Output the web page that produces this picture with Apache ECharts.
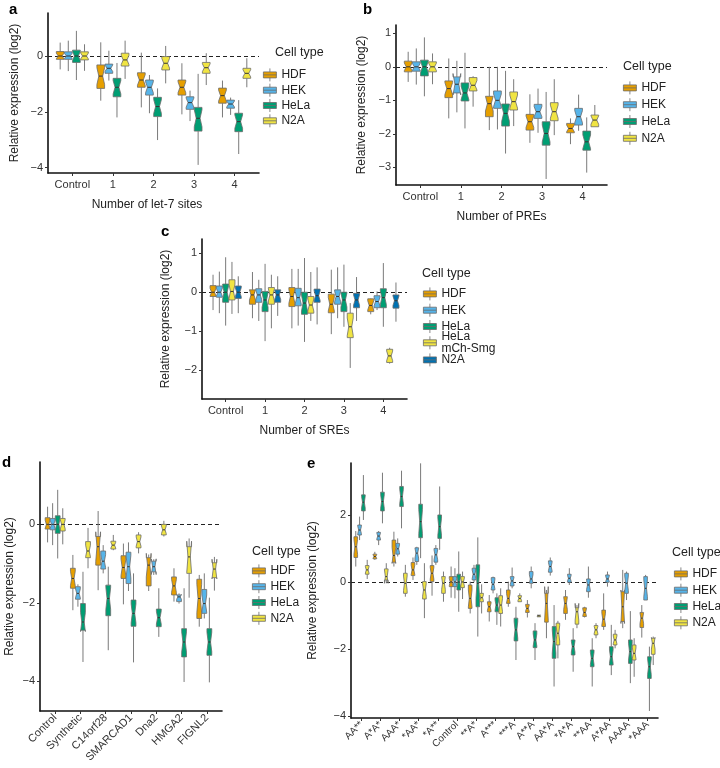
<!DOCTYPE html>
<html><head><meta charset="utf-8">
<script src="https://cdn.jsdelivr.net/npm/echarts@6/dist/echarts.min.js"></script>
<style>html,body{margin:0;padding:0;background:#fff}#c{width:720px;height:768px}</style>
</head><body><div id="c"></div>
<script>
// ---------- DATA: each row = [lowerWhisker, Q1, median, Q3, upperWhisker, (notch half-size)] ----------
const aCategories = ['Control','1','2','3','4'];
const aHDF  = [[-0.48,-0.12,0,0.16,0.48],[-1.6,-1.16,-0.72,-0.32,0.49],[-1.84,-1.12,-0.86,-0.6,0.12],[-2.09,-1.4,-1.12,-0.86,-0.26],[-2.2,-1.69,-1.42,-1.15,-0.88]];
const aHEK  = [[-0.54,-0.12,0,0.15,0.55],[-0.88,-0.62,-0.44,-0.29,0.19],[-2.05,-1.4,-1.12,-0.86,-0.68],[-2.33,-1.91,-1.67,-1.46,-1.24],[-2.11,-1.87,-1.72,-1.58,-1.49]];
const aHeLa = [[-0.86,-0.23,0,0.21,0.9],[-2.2,-1.46,-1.12,-0.8,-0.25],[-3.01,-2.17,-1.81,-1.48,-1.16],[-3.9,-2.69,-2.23,-1.84,-0.64],[-3.51,-2.71,-2.35,-2.05,-1.58]];
const aN2A  = [[-0.53,-0.14,0,0.15,0.42],[-0.82,-0.36,-0.14,0.1,0.55],[-0.98,-0.5,-0.26,-0.02,0.36],[-1.04,-0.62,-0.42,-0.23,0.1],[-1.12,-0.8,-0.62,-0.44,-0.08]];

const bCategories = ['Control','1','2','3','4'];
const bHDF  = [[-0.45,-0.15,0,0.17,0.45],[-1.54,-0.92,-0.65,-0.42,0.25],[-1.89,-1.49,-1.1,-0.88,0],[-2.27,-1.89,-1.64,-1.42,-0.82],[-2.31,-1.97,-1.84,-1.69,-1.54]];
const bHEK  = [[-0.53,-0.13,0,0.15,0.55],[-1.36,-0.78,-0.52,-0.3,0.18,0.32],[-1.87,-1.24,-1.0,-0.72,0],[-1.97,-1.54,-1.34,-1.12,-0.65],[-1.91,-1.74,-1.49,-1.24,-0.83]];
const bHeLa = [[-0.88,-0.27,0,0.2,0.88],[-1.84,-1.02,-0.78,-0.48,0.42],[-2.59,-1.77,-1.39,-1.11,-0.12],[-3.35,-2.34,-1.99,-1.64,-0.75],[-3.16,-2.49,-2.24,-1.92,-1.51]];
const bN2A  = [[-0.52,-0.15,0,0.15,0.4],[-1.19,-0.72,-0.55,-0.32,-0.28],[-1.77,-1.29,-1.04,-0.75,-0.37],[-2.04,-1.61,-1.34,-1.07,-0.37],[-1.79,-1.79,-1.59,-1.44,-1.14]];

const cCategories = ['Control','1','2','3','4'];
const cHDF  = [[-0.46,-0.11,0,0.17,0.45],[-0.67,-0.31,-0.07,0.06,0.52],[-0.93,-0.37,-0.11,0.12,0.6],[-1.08,-0.53,-0.31,-0.05,0.58],[-0.57,-0.5,-0.34,-0.17,-0.16]];
const cHEK  = [[-0.54,-0.13,0,0.16,0.53],[-0.74,-0.26,-0.07,0.09,0.32],[-0.86,-0.35,-0.14,0.1,0.6],[-0.67,-0.31,-0.11,0.06,0.64],[-0.46,-0.4,-0.24,-0.09,0.02]];
const cHeLa = [[-0.86,-0.26,0,0.21,0.9],[-1.26,-0.5,-0.2,0.02,0.73],[-1.28,-0.57,-0.28,0,0.88],[-0.89,-0.5,-0.2,0,0.71],[-0.89,-0.4,-0.14,0.09,0.75]];
const cMch  = [[-0.56,-0.2,0.02,0.32,0.78],[-0.93,-0.31,-0.07,0.12,0.45],[-0.74,-0.54,-0.33,-0.11,0.52],[-1.95,-1.17,-0.89,-0.54,-0.28],[-1.84,-1.81,-1.64,-1.47,-1.43]];
const cN2A  = [[-0.54,-0.16,0,0.16,0.41],[-0.61,-0.26,-0.07,0.06,0.41],[-0.83,-0.26,-0.09,0.08,0.64],[-0.74,-0.4,-0.2,-0.03,0.39],[-0.76,-0.41,-0.22,-0.07,0.25]];

const dCategories = ['Control','Synthetic','C14orf28','SMARCAD1','Dna2','HMGA2','FIGNL2'];
const dHDF  = [[-0.46,-0.12,0,0.17,0.45],[-2.19,-1.63,-1.38,-1.12,-0.78],[-1.68,-1.04,-0.57,-0.31,0.34,0.38],[-2.04,-1.38,-1.1,-0.8,-0.49],[-1.7,-1.57,-1.04,-0.85,-0.77,0.3],[-1.97,-1.8,-1.57,-1.34,-1.12],[-2.61,-2.4,-1.89,-1.4,-1.29]];
const dHEK  = [[-0.53,-0.14,0,0.15,0.54],[-2.1,-1.91,-1.76,-1.59,-1.53],[-1.25,-1.14,-0.94,-0.68,-0.53],[-1.7,-1.51,-1.08,-0.71,-0.46],[-1.29,-1.21,-1.08,-0.94,-0.89,0.2],[-2.02,-1.97,-1.85,-1.8,-1.76],[-2.4,-2.27,-2.02,-1.66,-1.25]];
const dHeLa = [[-0.87,-0.23,0,0.22,0.88],[-3.51,-2.7,-2.49,-2.02,-1.21],[-3.21,-2.33,-1.89,-1.55,-1.08],[-3.52,-2.6,-2.27,-1.93,-1.25],[-2.87,-2.61,-2.38,-2.16,-1.63],[-4.02,-3.38,-3.0,-2.66,-1.63],[-4.03,-3.34,-3.0,-2.66,-1.87]];
const dN2A  = [[-0.51,-0.17,0,0.15,0.41],[-1.12,-0.85,-0.68,-0.44,-0.09],[-0.66,-0.63,-0.53,-0.43,-0.27],[-0.74,-0.6,-0.44,-0.27,-0.2],[-0.31,-0.27,-0.14,0,0.09],[-1.87,-1.25,-0.83,-0.57,-0.36,0.4],[-1.69,-1.36,-1.14,-0.98,-0.83,0.25]];

const eCategories = ['AA**','A*A*','AAA*','*AA*','*A**','Control','**A*','A***','***A','A**A','AA*A','*A*A','**AA','A*AA','AAAA','*AAA'];
const eHDF = [[0.46,0.73,1.05,1.35,1.52],[0.66,0.69,0.76,0.83,0.9],[0.46,0.59,0.79,1.25,1.5],[0.06,0.19,0.36,0.58,0.73],[-0.41,0.01,0.26,0.49,0.79],[-0.47,-0.14,0,0.16,0.46],[-0.94,-0.79,-0.49,-0.09,0.01],[-1.18,-0.89,-0.74,-0.59,-0.39],[-0.74,-0.64,-0.49,-0.24,0.01],[-1.06,-0.91,-0.79,-0.67,-0.54],[-1.68,-1.2,-0.64,-0.34,-0.24,0.5],[-1.13,-0.94,-0.64,-0.44,-0.24],[-1.06,-1.03,-0.91,-0.77,-0.74],[-1.43,-1.33,-1.11,-0.84,-0.34],[-1.38,-1.18,-0.74,-0.29,0.36,0.5],[-1.66,-1.36,-1.08,-0.91,-0.69]];
const eHEK = [[1.25,1.4,1.55,1.7,1.95],[1.1,1.25,1.37,1.48,1.52],[0.76,0.83,0.99,1.15,1.3],[0.51,0.61,0.86,1.02,1.05],[0.51,0.59,0.81,1.0,1.1],[-0.49,-0.14,0,0.16,0.41],[-0.01,0.06,0.23,0.41,0.51],[-0.34,-0.24,-0.07,0.13,0.16],[-0.19,-0.12,0.03,0.16,0.43],[-0.19,-0.04,0.09,0.31,0.46],[0.19,0.29,0.46,0.63,0.73],[-0.09,-0.01,0.11,0.23,0.41],[-0.47,-0.29,-0.09,0.09,0.46],[-0.14,-0.01,0.09,0.21,0.31],[-0.54,-0.34,-0.04,0.26,0.31],[-0.54,-0.54,-0.19,0.16,0.21]];
const eHeLa = [[1.85,2.12,2.38,2.6,3.19],[1.75,2.12,2.4,2.68,3.26],[1.6,2.25,2.55,2.85,3.32],[0.71,1.32,1.8,2.32,3.54],[0.96,1.3,1.65,2.0,2.85],[-0.89,-0.24,0,0.23,0.91],[-1.63,-0.74,-0.04,0.51,1.33],[-1.28,-0.89,-0.69,-0.47,-0.34],[-2.33,-1.76,-1.43,-1.08,-0.74],[-2.33,-1.96,-1.73,-1.46,-1.23],[-3.12,-2.28,-1.78,-1.33,-0.69],[-2.68,-2.18,-1.93,-1.73,-1.38],[-3.12,-2.53,-2.28,-2.03,-1.68],[-2.78,-2.48,-2.23,-1.93,-1.28],[-3.02,-2.43,-2.08,-1.73,-0.87],[-3.85,-2.88,-2.53,-2.23,-1.93]];
const eN2A = [[0.09,0.23,0.36,0.49,0.66],[-0.04,0.06,0.16,0.39,0.56,0.2],[-0.44,-0.34,-0.04,0.26,0.51],[-1.08,-0.51,-0.24,0.01,0.56],[-0.59,-0.34,-0.04,0.16,0.31],[-0.51,-0.17,0,0.16,0.31],[-0.94,-0.59,-0.47,-0.34,-0.07],[-1.33,-0.94,-0.69,-0.41,-0.19],[-0.59,-0.59,-0.49,-0.41,-0.34],[-1.04,-1.04,-1.01,-0.99,-0.99],[-2.28,-1.88,-1.53,-1.23,-1.16],[-1.38,-1.26,-0.89,-0.77,-0.69,0.25],[-1.68,-1.58,-1.43,-1.3,-1.23],[-1.98,-1.88,-1.73,-1.56,-1.43],[-2.83,-2.33,-2.13,-1.88,-1.68],[-2.48,-2.16,-1.83,-1.68,-1.63]];

const aTicks = [-4,-2,0], bTicks = [-3,-2,-1,0,1], cTicks = [-2,-1,0,1], dTicks = [-4,-2,0], eTicks = [-4,-2,0,2];

// ---------- STYLE ----------
const FONT = 'Liberation Sans, Arial, Helvetica, sans-serif';
const COL = {HDF:'#E69F00', HEK:'#56B4E9', HeLa:'#009E73', N2A:'#F0E442', Mch:'#F0E442', N2Ab:'#0072B2'};
const GROUP_W = 0.8;

function renderBox(params, api) {
  const x = api.value(0), lo = api.value(1), q1 = api.value(2), md = api.value(3), q3 = api.value(4), hi = api.value(5), nh = api.value(6), hw = api.value(7);
  const pm = api.coord([x, md]);
  const xl = api.coord([x - hw, md])[0], xr = api.coord([x + hw, md])[0];
  const Y = v => api.coord([x, v])[1];
  const ind = (xr - xl) / 4;
  const yq1 = Y(q1), yq3 = Y(q3), ym = pm[1], ynu = Y(md + nh), ynl = Y(md - nh), cx = pm[0];
  const color = api.visual('color');
  return {type:'group', children:[
    {type:'line', shape:{x1:cx,y1:Y(hi),x2:cx,y2:yq3}, style:{stroke:'#7a7a7a', lineWidth:1}},
    {type:'line', shape:{x1:cx,y1:yq1,x2:cx,y2:Y(lo)}, style:{stroke:'#7a7a7a', lineWidth:1}},
    {type:'polygon', shape:{points:[[xl,yq3],[xl,ynu],[xl+ind,ym],[xl,ynl],[xl,yq1],[xr,yq1],[xr,ynl],[xr-ind,ym],[xr,ynu],[xr,yq3]]}, style:{fill:color, stroke:'#6b6b6b', lineWidth:0.8}},
    {type:'line', shape:{x1:xl+ind,y1:ym,x2:xr-ind,y2:ym}, style:{stroke:'#333', lineWidth:1}}
  ]};
}

const series = [];
function addPanel(idx, list) {
  const K = list.length;
  list.forEach((s, k) => {
    const off = (k - (K - 1) / 2) * GROUP_W / K;
    const hw = GROUP_W / K / 2 * 0.95;
    const data = s.rows.map((r, i) => [i + 1 + off, r[0], r[1], r[2], r[3], r[4], r.length > 5 ? r[5] : 0.36 * (r[3] - r[1]), hw]);
    const ser = {type:'custom', name:s.name, xAxisIndex:idx, yAxisIndex:idx, renderItem:renderBox,
      itemStyle:{color:s.color}, data:data, encode:{x:0, y:[1,2,3,4,5]}, z:3};
    if (k === 0) {
      ser.markLine = {silent:true, symbol:['none','none'], label:{show:false}, z:1,
        lineStyle:{type:[4,3], color:'#222', width:1}, emphasis:{disabled:true}, data:[{yAxis:0}]};
    }
    series.push(ser);
  });
}
addPanel(0, [{name:'HDF',color:COL.HDF,rows:aHDF},{name:'HEK',color:COL.HEK,rows:aHEK},{name:'HeLa',color:COL.HeLa,rows:aHeLa},{name:'N2A',color:COL.N2A,rows:aN2A}]);
addPanel(1, [{name:'HDF',color:COL.HDF,rows:bHDF},{name:'HEK',color:COL.HEK,rows:bHEK},{name:'HeLa',color:COL.HeLa,rows:bHeLa},{name:'N2A',color:COL.N2A,rows:bN2A}]);
addPanel(2, [{name:'HDF',color:COL.HDF,rows:cHDF},{name:'HEK',color:COL.HEK,rows:cHEK},{name:'HeLa',color:COL.HeLa,rows:cHeLa},{name:'HeLa\nmCh-Smg',color:COL.Mch,rows:cMch},{name:'N2A',color:COL.N2Ab,rows:cN2A}]);
addPanel(3, [{name:'HDF',color:COL.HDF,rows:dHDF},{name:'HEK',color:COL.HEK,rows:dHEK},{name:'HeLa',color:COL.HeLa,rows:dHeLa},{name:'N2A',color:COL.N2A,rows:dN2A}]);
addPanel(4, [{name:'HDF',color:COL.HDF,rows:eHDF},{name:'HEK',color:COL.HEK,rows:eHEK},{name:'HeLa',color:COL.HeLa,rows:eHeLa},{name:'N2A',color:COL.N2A,rows:eN2A}]);

const grids = [
  {left:48, top:13, width:211, height:160},
  {left:396, top:25, width:211, height:160},
  {left:202, top:239, width:205, height:160},
  {left:40, top:462, width:182, height:249},
  {left:351, top:463, width:307, height:255}
];
const xr = [[0.4,5.6],[0.4,5.6],[0.4,5.6],[0.4,7.6],[0.45,16.55]];
const yr = [[-4.19,1.54],[-3.53,1.25],[-2.75,1.37],[-4.76,1.59],[-4.06,3.55]];
const cats = [aCategories,bCategories,cCategories,dCategories,eCategories];
const yt = [aTicks,bTicks,cTicks,dTicks,eTicks];
const xNames = ['Number of let-7 sites','Number of PREs','Number of SREs','',''];
const yGaps = [27,28,30,24,32];

const minus = v => v < 0 ? '\u2212' + Math.abs(v) : String(v);
const xAxes = grids.map((g, i) => {
  const vals = cats[i].map((c, j) => j + 1);
  return {type:'value', gridIndex:i, min:xr[i][0], max:xr[i][1], splitLine:{show:false},
    axisLine:{show:true, onZero:false, lineStyle:{color:'#111', width:1.6}},
    axisTick:{show:true, customValues:vals, length:3, lineStyle:{color:'#333'}},
    axisLabel:{customValues:vals, formatter:v => cats[i][Math.round(v) - 1], color:'#333', fontFamily:FONT,
      fontSize: i === 4 ? 10 : 11, rotate: i >= 3 ? 45 : 0, margin: i >= 3 ? 5 : 6},
    name:xNames[i], nameLocation:'middle', nameGap:26,
    nameTextStyle:{color:'#222', fontFamily:FONT, fontSize:12, padding: i === 0 ? [0,13,0,0] : 0}};
});
const yAxes = grids.map((g, i) => ({type:'value', gridIndex:i, min:yr[i][0], max:yr[i][1], splitLine:{show:false},
  axisLine:{show:true, onZero:false, lineStyle:{color:'#111', width:1.6}},
  axisTick:{show:true, customValues:yt[i], length:3, lineStyle:{color:'#333'}},
  axisLabel:{customValues:yt[i], formatter:minus, color:'#333', fontFamily:FONT, fontSize:11, margin:5},
  name:'Relative expression (log2)', nameLocation:'middle', nameRotate:90, nameGap:yGaps[i],
  nameTextStyle:{color:'#222', fontFamily:FONT, fontSize:12}}));

const letter = (t, l, tp) => ({text:t, left:l, top:tp, padding:0, textStyle:{fontFamily:FONT, fontWeight:'bold', fontSize:15, color:'#000'}});
const ctitle = (l, tp) => ({text:'Cell type', left:l, top:tp, padding:0, textStyle:{fontFamily:FONT, fontWeight:'normal', fontSize:12.5, color:'#222'}});

const ICON = 'path://M0,3.5 L13,3.5 L13,9.5 L0,9.5 Z M0,6.5 L13,6.5 M6.5,0 L6.5,3.5 M6.5,9.5 L6.5,13';
function legend(l, tp, gap, items, lh) {
  return {orient:'vertical', left:l, top:tp, padding:0, itemGap:gap, itemWidth:13, itemHeight:13, selectedMode:false,
    textStyle:{fontFamily:FONT, fontSize:12, color:'#222', lineHeight:lh || 12},
    data:items.map(([n, c]) => ({name:n, icon:ICON, itemStyle:{color:c, borderColor:'#6b6b6b', borderWidth:0.8}}))};
}
const std = [['HDF',COL.HDF],['HEK',COL.HEK],['HeLa',COL.HeLa],['N2A',COL.N2A]];

const option = {
  animation:false,
  textStyle:{fontFamily:FONT},
  title:[letter('a',9,2), letter('b',363,2), letter('c',161,224), letter('d',2,455), letter('e',307,456),
    ctitle(275,46), ctitle(623,60), ctitle(422,267), ctitle(252,545), ctitle(672,546)],
  legend:[legend(263,68,1.5,std), legend(623,81,3,std),
    legend(423,287,2.5,[['HDF',COL.HDF],['HEK',COL.HEK],['HeLa',COL.HeLa]]),
    legend(423,331,0,[['HeLa\nmCh-Smg',COL.Mch]],11.6),
    legend(423,353,0,[['N2A',COL.N2Ab]]),
    legend(252,564,2,std), legend(674,567,2.5,std)],
  grid:grids, xAxis:xAxes, yAxis:yAxes, series:series
};
const chart = echarts.init(document.getElementById('c'), null, {renderer:'canvas'});
chart.setOption(option);
</script></body></html>
